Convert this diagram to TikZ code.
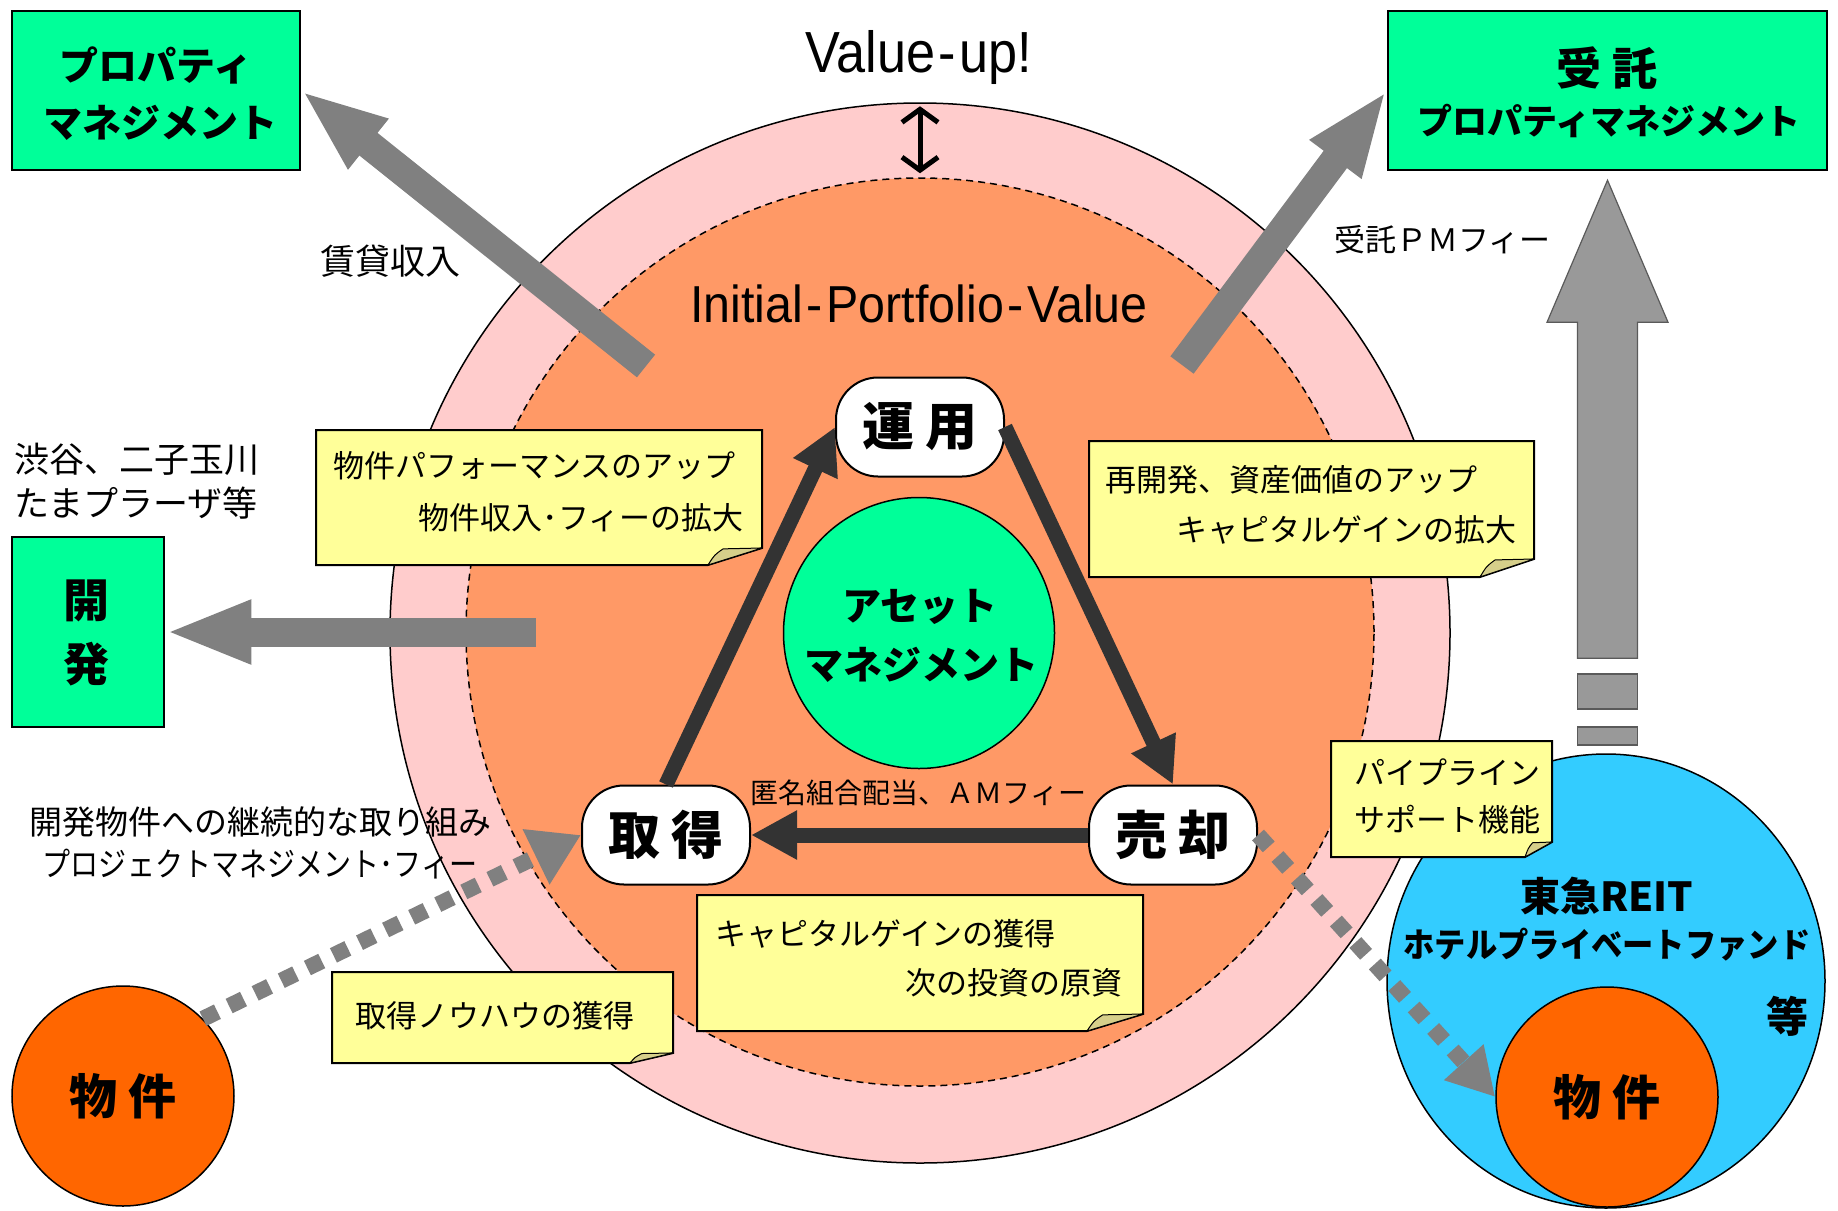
\documentclass[tikz,border=0pt]{standalone}
\usepackage{fontspec}
\setmainfont{Noto Sans CJK JP}
\newfontfamily\latinfont{Liberation Sans}
\usetikzlibrary{arrows.meta,shapes.geometric,calc}
\definecolor{ringpink}{HTML}{FFCCCC}
\definecolor{coreorange}{HTML}{FF9966}
\definecolor{springgreen}{HTML}{00FF99}
\definecolor{noteyellow}{HTML}{FFFF99}
\definecolor{notefoldc}{HTML}{D6CF8A}
\definecolor{fatgray}{HTML}{808080}
\definecolor{vgray}{HTML}{999999}
\definecolor{vborder}{HTML}{5A5A5A}
\definecolor{darkarrow}{HTML}{333333}
\definecolor{propertyorange}{HTML}{FF6600}
\definecolor{reitblue}{HTML}{33CCFF}
\newcommand\fsz[1]{\fontsize{#1}{#1}\selectfont}
% sticky note: x1,y1,x2,y2, fold dx, fold dy
\newcommand\stickynote[6]{%
  \draw[notebox] (#1,#2) -- (#3,#2) -- (#3,{#4-#6}) -- ({#3-#5},#4) -- (#1,#4) -- cycle;
  \draw[notefoldst] ({#3-#5},#4) .. controls ({#3-0.88*#5},{#4-0.6*#6}) .. ({#3-0.72*#5},{#4-0.95*#6}) -- (#3,{#4-#6}) -- cycle;
}
\begin{document}
\begin{tikzpicture}[x=1pt,y=-1pt,
  greenbox/.style={draw=black, line width=2.5pt, fill=springgreen, inner sep=0pt},
  stagebox/.style={draw=black, line width=2pt, fill=white, rounded corners=42pt, minimum width=168pt, minimum height=99pt, inner sep=0pt, font=\bfseries\fsz{52}},
  notebox/.style={draw=black, line width=2pt, fill=noteyellow, line join=miter},
  notefoldst/.style={draw=black, line width=1pt, fill=notefoldc, line join=round},
  txt/.style={inner sep=0pt, font=\fsz{31}},
  boldtxt/.style={inner sep=0pt, font=\bfseries\fsz{39}},
  fatarrow/.style={draw=fatgray, line width=29pt, -{Triangle[length=86pt,width=58pt]}},
  cyclearrow/.style={draw=darkarrow, line width=15pt, -{Triangle[length=46pt,width=46pt]}},
  dotarrow/.style={draw=fatgray, line width=16pt, dash pattern=on 16pt off 13pt},
  propcircle/.style={ellipse, draw=black, line width=1.5pt, fill=propertyorange, minimum width=222pt, minimum height=220pt, inner sep=0pt, font=\bfseries\fsz{48}},
  vblock/.style={draw=vborder, line width=1.2pt, fill=vgray, inner sep=0pt, minimum width=60pt}
]
\fill[white] (0,0) rectangle (1838,1210);
\useasboundingbox (0,0) rectangle (1838,1210);

% value rings
\node[circle, draw=black, line width=1.5pt, fill=ringpink, minimum size=1060pt, inner sep=0pt] (outer) at (920,633) {};
\node[circle, draw=black, line width=1.5pt, dash pattern=on 7pt off 5pt, fill=coreorange, minimum size=908pt, inner sep=0pt] (core) at (920,632) {};

\node[anchor=base, inner sep=0pt, font=\latinfont\fsz{58}] (vu) at (919,72) {\scalebox{0.9}[1]{Value\kern4pt-\kern4pt up!}};
\draw[black, line width=5pt, line cap=round, line join=round,
  {Straight Barb[length=13pt,width=36pt]}-{Straight Barb[length=13pt,width=36pt]},
  shorten <=4pt, shorten >=4pt] (outer.north) -- (core.north);
\node[anchor=base, inner sep=0pt, font=\latinfont\fsz{52}] (ipv) at (919,322) {\scalebox{0.93}[1]{Initial\kern4pt-\kern4pt Portfolio\kern4pt-\kern4pt Value}};

% green boxes
\node[greenbox, minimum width=288pt, minimum height=159pt] (pm) at (156,90.5) {};
\node[boldtxt] (pm1) at (156,65.5) {プロパティ};
\node[boldtxt] (pm2) at (160,122.5) {マネジメント};
\node[greenbox, minimum width=439pt, minimum height=159pt] (jt) at (1607.5,90.5) {};
\node[boldtxt, font=\bfseries\fsz{45}] (jt1) at (1607,68.5) {受 託};
\node[boldtxt, font=\bfseries\fsz{35}] (jt2) at (1609,121) {プロパティマネジメント};
\node[greenbox, minimum width=152pt, minimum height=190pt] (kd) at (88,632) {};
\node[boldtxt, font=\bfseries\fsz{46}] (kd1) at (86,601) {開};
\node[boldtxt, font=\bfseries\fsz{46}] (kd2) at (86,664) {発};

% fat gray arrows
\coordinate (pmtail) at (646,366);
\coordinate (jttail) at (1182,365);
\coordinate (kdtail) at (536,632);
\draw[fatarrow] (pmtail) -- (pm.east);
\draw[fatarrow] (jttail) -- (jt.west);
\draw[fatarrow] (kdtail) -- (kd.east);

% vertical pipeline arrow
\coordinate (vtip) at ($(jt.south)+(0,9)$);
\draw[vborder, line width=1.2pt, fill=vgray, line join=miter]
  (vtip) -- ++(60.5,142) -- ++(-30.5,0) -- ++(0,336) -- ++(-60,0) -- ++(0,-336) -- ++(-30.5,0) -- cycle;
\node[vblock, minimum height=35pt] (blk1) at (1607.5,691.5) {};
\node[vblock, minimum height=18pt] (blk2) at (1607.5,736) {};

% free labels
\node[txt, font=\fsz{35}] (chintai) at (390,261) {賃貸収入};
\node[txt, anchor=west] (jtfee) at (1334,240) {受託ＰＭフィー};
\node[txt, anchor=west, font=\fsz{35}] (area1) at (14,459) {渋谷、二子玉川};
\node[txt, anchor=west, font=\fsz{35}] (area2) at (14,503) {たまプラーザ等};

% sticky notes
\stickynote{316}{430}{762}{565}{54}{17}
\node[txt, anchor=west] (n1a) at (333,466) {物件パフォーマンスのアップ};
\node[txt, anchor=east] (n1b) at (744,517.5) {物件収入･フィーの拡大};
\stickynote{1089}{441}{1534}{577}{54}{18}
\node[txt, anchor=west] (n2a) at (1105,480) {再開発、資産価値のアップ};
\node[txt, anchor=east] (n2b) at (1517,530) {キャピタルゲインの拡大};
\stickynote{697}{895}{1143}{1031}{56}{17}
\node[txt, anchor=west] (n3a) at (715,934) {キャピタルゲインの獲得};
\node[txt, anchor=east] (n3b) at (1123,983) {次の投資の原資};
\stickynote{332}{972}{673}{1063}{43}{10}
\node[txt, anchor=west] (n4) at (355,1016) {取得ノウハウの獲得};

% asset management core
\node[circle, draw=black, line width=1.5pt, fill=springgreen, minimum size=271pt, inner sep=0pt] (am) at (919,633) {};
\node[boldtxt] (am1) at (920,607) {アセット};
\node[boldtxt] (am2) at (921,665) {マネジメント};

% cycle
\node[stagebox] (un) at (920,427) {運 用};
\node[stagebox] (qu) at (666,835) {取 得};
\node[stagebox] (sk) at (1173,835) {売 却};
\draw[cyclearrow] (qu.north) -- (un.west);
\draw[cyclearrow] (un.east) -- (sk.north);
\draw[cyclearrow] (sk.west) -- (qu.east);
\node[txt, font=\fsz{28}] (tokumei) at (918.5,793) {匿名組合配当、ＡＭフィー};

% REIT side
\node[ellipse, draw=black, line width=1.5pt, fill=reitblue, minimum width=438pt, minimum height=454pt, inner sep=0pt] (reit) at (1606,981) {};
\node[boldtxt, font=\bfseries\fsz{40}] (reit1) at (1607,896) {東急REIT};
\node[boldtxt, font=\bfseries\fsz{34}] (reit2) at (1607,945) {\scalebox{0.92}[1]{ホテルプライベートファンド}};
\node[boldtxt, font=\bfseries\fsz{42}] (reit3) at (1787,1016) {等};
\node[propcircle] (bkR) at (1607,1097) {物 件};

% property on the left
\node[propcircle] (bkL) at (123,1096) {物 件};
\node[txt, font=\fsz{33}] (dev1) at (260,822) {開発物件への継続的な取り組み};
\node[txt, font=\fsz{33}] (dev2) at (260,864) {\scalebox{0.85}[1]{プロジェクトマネジメント･フィー}};

% dotted transfer arrows
\draw[dotarrow, -{Triangle[length=50pt,width=58pt]}] (bkL.44) -- (qu.west);
\draw[dotarrow, -{Triangle[length=47pt,width=50pt]}] (sk.east) -- (bkR.west);

% pipeline note
\stickynote{1331}{741}{1552}{857}{27}{15}
\node[txt, anchor=west] (n5a) at (1354,772) {パイプライン};
\node[txt, anchor=west] (n5b) at (1354,820) {サポート機能};
\end{tikzpicture}
\end{document}
